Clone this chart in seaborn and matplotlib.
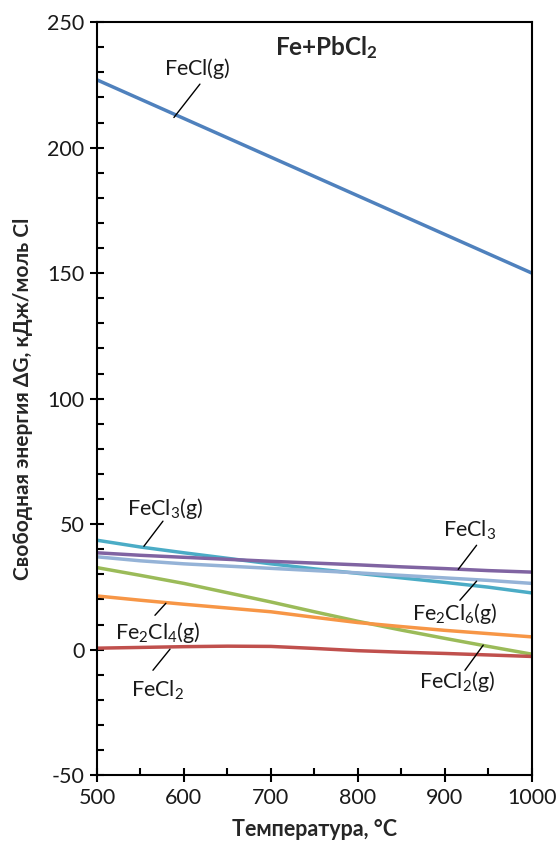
import matplotlib
matplotlib.use("Agg")
import matplotlib.pyplot as plt
import seaborn as sns
import pandas as pd
from matplotlib.ticker import MultipleLocator

sns.set_theme(style="white")
plt.rcParams["font.family"] = ["Lato", "DejaVu Sans"]
plt.rcParams["mathtext.fontset"] = "custom"
plt.rcParams["mathtext.rm"] = "Lato"
plt.rcParams["mathtext.bf"] = "Lato:bold"
plt.rcParams["axes.unicode_minus"] = False

# Temperature grid, °C
temperature = [500, 550, 600, 650, 700, 750, 800, 850, 900, 950, 1000]

# Free energy ΔG, kJ per mol Cl
fecl_g = [227.0, 219.3, 211.6, 203.9, 196.2, 188.5, 180.8, 173.1, 165.4, 157.7, 150.0]
fecl3_g = [43.6, 40.9, 38.6, 36.4, 34.2, 32.2, 30.4, 28.6, 26.8, 24.9, 22.6]
fecl3 = [38.6, 37.6, 36.8, 36.0, 35.2, 34.5, 33.8, 33.0, 32.3, 31.5, 30.9]
fe2cl6_g = [37.0, 35.4, 34.2, 33.3, 32.4, 31.5, 30.6, 29.6, 28.6, 27.6, 26.4]
fecl2_g = [32.7, 29.6, 26.4, 22.7, 19.0, 15.1, 11.3, 7.8, 4.5, 1.3, -1.8]
fe2cl4_g = [21.4, 19.7, 18.1, 16.6, 15.1, 12.9, 10.8, 9.2, 7.7, 6.4, 5.1]
fecl2 = [0.6, 0.9, 1.2, 1.4, 1.3, 0.5, -0.4, -1.0, -1.5, -2.1, -2.7]

species = ["FeCl(g)", "FeCl3(g)", "FeCl3", "Fe2Cl6(g)", "FeCl2(g)", "Fe2Cl4(g)", "FeCl2"]
series = [fecl_g, fecl3_g, fecl3, fe2cl6_g, fecl2_g, fe2cl4_g, fecl2]
colors = ["#4F81BD", "#4BACC6", "#8064A2", "#95B3D7", "#9BBB59", "#F79646", "#C0504D"]

rows = []
for name, vals in zip(species, series):
    for t, v in zip(temperature, vals):
        rows.append({"T": t, "dG": v, "species": name})
df = pd.DataFrame(rows)

fig = plt.figure(figsize=(5.57, 8.5), dpi=100)
ax = fig.add_axes([0.174, 0.088, 0.781, 0.886])

sns.lineplot(data=df, x="T", y="dG", hue="species", hue_order=species,
             palette=dict(zip(species, colors)), linewidth=2.5, legend=False, ax=ax)

ax.set_xlim(500, 1000)
ax.set_ylim(-50, 250)
ax.xaxis.set_major_locator(MultipleLocator(100))
ax.xaxis.set_minor_locator(MultipleLocator(50))
ax.yaxis.set_major_locator(MultipleLocator(50))
ax.yaxis.set_minor_locator(MultipleLocator(10))
ax.tick_params(which="major", direction="inout", length=10, width=1.5,
               labelsize=15.5, color="black", labelcolor="#1a1a1a", pad=4,
               bottom=True, left=True)
ax.tick_params(which="minor", direction="in", length=5, width=1.5,
               color="black", bottom=True, left=True)
for s in ax.spines.values():
    s.set_color("black")
    s.set_linewidth(1.5)

ax.set_xlabel("Температура, °C", fontsize=15.5, fontweight="bold", labelpad=8)
ax.set_ylabel("Свободная энергия ΔG, кДж/моль Cl", fontsize=15,
              fontweight="bold", labelpad=10)

ax.text(764, 240, r"$\mathbf{Fe{+}PbCl_2}$", fontsize=17.5, ha="center", va="center")

# Series labels with leader lines
labels = [
    (r"$\mathregular{FeCl(g)}$", (615, 231.5), (618.4, 225.3), (588.5, 212.0)),
    (r"$\mathregular{FeCl_3(g)}$", (578, 56.4), (575.9, 51.2), (554.0, 41.2)),
    (r"$\mathregular{Fe_2Cl_4(g)}$", (570, 7.0), (579.3, 18.5), (566.7, 13.7)),
    (r"$\mathregular{FeCl_2}$", (570, -16.1), (584.0, 0.2), (564.4, -8.2)),
    (r"$\mathregular{FeCl_3}$", (928.7, 47.6), (936.4, 41.6), (915.3, 32.0)),
    (r"$\mathregular{Fe_2Cl_6(g)}$", (911.5, 14.4), (936.4, 27.3), (917.2, 19.7)),
    (r"$\mathregular{FeCl_2(g)}$", (913.4, -12.8), (944.0, 1.8), (923.0, -8.2)),
]
for text, (tx, ty), (x0, y0), (x1, y1) in labels:
    ax.text(tx, ty, text, fontsize=15.5, ha="center", va="center", color="#1a1a1a")
    ax.plot([x0, x1], [y0, y1], color="black", linewidth=1.0)

fig.savefig("out.png", dpi=100)
